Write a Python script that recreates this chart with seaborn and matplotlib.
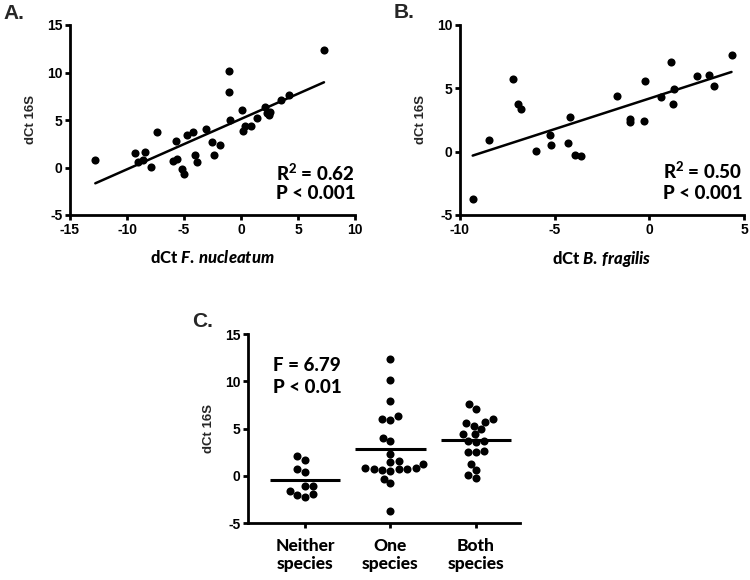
import numpy as np
import pandas as pd
import matplotlib
matplotlib.use("Agg")
import matplotlib.pyplot as plt
import seaborn as sns

# ---------------- data ----------------
fn_x = [-12.78, -9.34, -9.04, -8.59, -8.44, -7.90, -7.34, -5.96, -5.69, -5.60,
        -5.20, -5.00, -4.70, -4.25, -4.04, -3.89, -3.05, -2.57, -2.34, -1.80,
        -1.08, -1.02, -0.96, 0.12, 0.18, 0.36, 0.90, 1.38, 2.10, 2.28,
        2.43, 2.57, 3.47, 4.19, 7.28]
fn_y = [0.77, 1.51, 0.63, 0.77, 1.65, 0.07, 3.70, 0.70, 2.75, 0.85,
        -0.18, -0.70, 3.42, 3.73, 1.34, 0.56, 4.08, 2.64, 1.27, 2.36,
        7.96, 10.14, 5.04, 6.02, 3.80, 4.33, 4.40, 5.21, 6.41, 5.74,
        5.56, 5.85, 7.11, 7.61, 12.32]

bf_x = [-9.33, -8.48, -7.20, -6.92, -6.76, -5.98, -5.26, -5.19, -4.30, -4.19,
        -3.91, -3.63, -1.70, -1.03, -1.04, -0.27, -0.23, 0.62, 1.15, 1.27,
        1.31, 2.51, 3.17, 3.42, 4.34]
bf_y = [-3.70, 0.90, 5.73, 3.75, 3.38, 0.05, 1.29, 0.53, 0.69, 2.72,
        -0.24, -0.32, 4.36, 2.56, 2.35, 2.40, 5.60, 4.28, 7.10, 3.80,
        4.96, 6.00, 6.05, 5.20, 7.63]

groups = ["Neither\nspecies", "One\nspecies", "Both\nspecies"]
neither = [2.11, 1.72, 0.39, 0.70, -1.02, -2.18, -1.55, -1.02, -2.00, -1.90]
one = [12.36, 10.10, 7.92, 5.88, 6.34, 6.05, 4.05, 3.73, 2.36, 1.27, 1.62,
       1.45, 0.77, 0.77, 0.53, 0.84, 0.84, 0.63, 0.70, -0.28, -0.77, -3.70]
both = [5.28, 4.43, 3.56, 2.50, 7.07, 5.60, 3.73, 0.63, -0.25, 7.60, 5.67,
        4.40, 2.53, 1.30, 0.07, 5.99, 4.93, 3.70, 2.64]

ticks_a_x = [-15, -10, -5, 0, 5, 10]
ticks_a_y = [-5, 0, 5, 10, 15]
ticks_b_x = [-10, -5, 0, 5]
ticks_b_y = [-5, 0, 5, 10]
ticks_c_y = [-5, 0, 5, 10, 15]

# ---------------- style ----------------
sns.set_theme(style="ticks")
plt.rcParams["font.family"] = ["Liberation Sans", "DejaVu Sans"]
plt.rcParams["font.weight"] = "bold"
plt.rcParams["axes.unicode_minus"] = False
plt.rcParams["mathtext.fontset"] = "custom"
plt.rcParams["mathtext.rm"] = "Lato:black"
plt.rcParams["mathtext.it"] = "Lato:italic:black"
plt.rcParams["mathtext.bf"] = "Lato:black"

fig = plt.figure(figsize=(7.5, 5.8), dpi=100)
W, H = 750.0, 580.0


def axes_px(left, top, right, bottom):
    return fig.add_axes([left / W, 1 - bottom / H, (right - left) / W, (bottom - top) / H])


axA = axes_px(70, 25, 355, 215)
axB = axes_px(460, 25, 744, 215)
axC = axes_px(248, 334, 520, 523.3)


def style_axis(ax):
    sns.despine(ax=ax)
    for s in ("left", "bottom"):
        ax.spines[s].set_linewidth(2.0)
        ax.spines[s].set_color("black")
    ax.tick_params(axis="both", direction="out", length=3.5, width=2.0,
                   color="black", labelsize=10, labelcolor="black", pad=2)
    for lab in ax.get_xticklabels() + ax.get_yticklabels():
        lab.set_fontweight("bold")
        lab.set_fontfamily(["Liberation Sans", "DejaVu Sans"])


lato_ann = dict(fontfamily="Lato", fontweight=900, fontsize=13.5, color="black")
lato_lab = dict(fontfamily="Lato", fontweight=900, fontsize=12, color="black")

# ---------------- Panel A ----------------
sns.regplot(x=fn_x, y=fn_y, ax=axA, ci=None, truncate=True, color="black",
            scatter_kws=dict(s=34, linewidths=0, alpha=1),
            line_kws=dict(lw=1.8, color="black"))
axA.set_xlim(-15, 10)
axA.set_ylim(-5, 15)
axA.set_xticks(ticks_a_x)
axA.set_yticks(ticks_a_y)
axA.set_xlabel(r"dCt $\mathit{F.\,nucleatum}$", labelpad=9, **lato_lab)
axA.set_ylabel("dCt 16S", fontsize=9.5, fontweight="bold", labelpad=7)
style_axis(axA)
axA.text(0.723, 0.18, r"R$^{\mathbf{2}}$ = 0.62", transform=axA.transAxes, va="baseline", ha="left", **lato_ann)
axA.text(0.723, 0.084, "P < 0.001", transform=axA.transAxes, va="baseline", ha="left", **lato_ann)

# ---------------- Panel B ----------------
sns.regplot(x=bf_x, y=bf_y, ax=axB, ci=None, truncate=True, color="black",
            scatter_kws=dict(s=34, linewidths=0, alpha=1),
            line_kws=dict(lw=1.8, color="black"))
axB.set_xlim(-10, 5)
axB.set_ylim(-5, 10)
axB.set_xticks(ticks_b_x)
axB.set_yticks(ticks_b_y)
axB.set_xlabel(r"dCt $\mathit{B.\,fragilis}$", labelpad=9, **lato_lab)
axB.set_ylabel("dCt 16S", fontsize=9.5, fontweight="bold", labelpad=7)
style_axis(axB)
axB.text(0.714, 0.19, r"R$^{\mathbf{2}}$ = 0.50", transform=axB.transAxes, va="baseline", ha="left", **lato_ann)
axB.text(0.714, 0.084, "P < 0.001", transform=axB.transAxes, va="baseline", ha="left", **lato_ann)

# ---------------- Panel C ----------------
dfC = pd.DataFrame({
    "group": [groups[0]] * len(neither) + [groups[1]] * len(one) + [groups[2]] * len(both),
    "value": neither + one + both,
})
sns.swarmplot(data=dfC, x="group", y="value", order=groups, ax=axC,
              color="black", size=5.8, linewidth=0)
means = [np.mean(neither), np.mean(one), np.mean(both)]
for i, m in enumerate(means):
    axC.hlines(m, i - 0.41, i + 0.41, color="black", lw=2.2, zorder=3)
axC.set_xlim(-0.667, 2.515)
axC.set_ylim(-5, 15)
axC.set_yticks(ticks_c_y)
axC.set_xlabel("")
axC.set_ylabel("dCt 16S", fontsize=9.5, fontweight="bold", labelpad=7)
style_axis(axC)
axC.set_xticks(range(3))
axC.set_xticklabels(groups, fontfamily="Lato", fontweight=900, fontsize=12.5,
                    linespacing=1.2)
axC.tick_params(axis="x", pad=7)
axC.text(0.091, 0.805, "F = 6.79", transform=axC.transAxes, va="baseline", ha="left", **lato_ann)
axC.text(0.091, 0.687, "P < 0.01", transform=axC.transAxes, va="baseline", ha="left", **lato_ann)

# ---------------- panel letters ----------------
fig.text(3 / W, 1 - 19.3 / H, "A.", fontsize=15, fontweight="bold", va="baseline", ha="left")
fig.text(394 / W, 1 - 18.3 / H, "B.", fontsize=15, fontweight="bold", va="baseline", ha="left")
fig.text(192 / W, 1 - 326.7 / H, "C.", fontsize=15, fontweight="bold", va="baseline", ha="left")

fig.savefig("out.png", dpi=100, facecolor="white")
